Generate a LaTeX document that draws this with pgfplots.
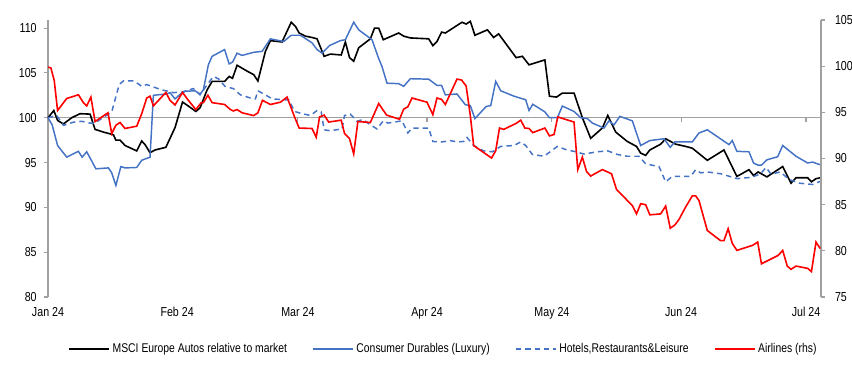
\documentclass[border=0pt]{standalone}
\usepackage{fontspec}
\setmainfont{Liberation Sans}[FakeStretch=0.82]
\usepackage{pgfplots}
\usepackage{pgfplotstable}
\pgfplotsset{compat=1.18}
\definecolor{cblue}{RGB}{68,114,196}
\definecolor{cred}{RGB}{255,0,0}
\definecolor{cgrey}{RGB}{160,160,160}

\pgfplotstableread{
d v
0 100
1.4 100.8
2.3 99.7
3.7 99.3
5.7 100.0
7.7 100.45
10.1 100.4
11.3 98.7
13.3 98.4
14.9 98.2
15.7 98.1
16.3 97.5
17.3 97.5
18.5 96.9
21.3 96.3
22.5 97.4
23.3 97.0
24.5 96.1
25.7 96.4
28.3 96.7
29.7 98.1
30.5 98.9
32.3 101.75
33.7 101.3
35.5 100.7
36.5 101.1
38.2 103.1
39.4 104.05
42.4 104.05
43.5 104.6
44.3 104.4
45.4 105.85
47.8 105.2
49.4 104.8
50.4 104.1
52.2 107.4
53.4 108.6
56.2 108.45
57.0 109.25
58.4 110.65
59.4 110.2
60.3 109.45
61.8 109.1
63.4 108.95
64.6 108.8
66.3 106.85
67.8 107.1
70.4 107.0
71.4 108.45
72.4 106.7
73.4 106.3
74.6 107.8
77.4 108.8
78.4 110.0
79.4 110.0
80.5 108.7
84.2 109.45
85.4 109.1
87.0 108.9
91.4 108.8
92.4 108.05
93.4 108.5
94.5 109.55
95.4 109.45
99.4 110.65
100.4 110.45
101.4 110.75
102.5 109.2
105.5 109.8
107.0 108.95
108.2 109.35
112.4 106.7
113.9 106.85
115.5 105.9
119.3 106.45
120.4 102.4
122.1 102.3
123.5 102.75
126.3 102.75
128.3 100.0
130.3 97.7
133.1 98.85
134.4 100.25
136.3 98.4
139.1 97.35
141.3 96.8
142.3 96.05
143.5 95.8
144.5 96.4
147.1 97.05
148.3 97.65
150.7 97.05
153.1 96.8
154.7 96.6
158.3 95.25
162.3 96.4
165.4 93.45
168.3 94.2
169.4 93.55
170.5 93.95
172.6 93.4
176.4 94.55
178.4 92.7
179.6 93.3
182.4 93.3
183.3 92.85
184.4 93.2
185.4 93.3
}\autos

\pgfplotstableread{
d v
0 100
1.0 99.2
2.3 96.9
4.5 95.6
7.3 96.25
8.2 95.6
9.3 96.2
11.5 94.3
14.5 94.4
15.3 93.85
16.3 92.45
17.5 94.55
18.5 94.4
21.3 94.45
22.5 95.25
24.5 95.6
25.3 102.5
28.5 102.65
29.3 102.8
30.5 102.1
31.7 102.6
32.9 102.95
35.3 103.0
36.5 102.65
37.3 103.1
38.5 105.9
39.4 106.85
42.4 107.6
43.5 106.0
44.3 106.2
45.4 107.2
46.6 106.95
49.4 107.3
51.4 107.4
53.4 108.8
56.6 108.5
58.4 109.2
60.6 109.2
63.4 108.35
64.6 107.6
65.8 107.2
67.6 108.05
70.2 108.6
71.4 108.7
73.4 110.65
74.6 109.8
77.8 108.7
79.4 106.6
80.2 105.7
81.4 103.85
84.2 103.8
85.4 103.5
87.0 104.35
91.4 104.3
93.4 103.6
94.5 103.6
95.4 102.55
98.2 102.65
100.2 101.45
101.4 101.35
102.5 99.9
105.2 101.25
106.3 101.35
107.5 104.05
108.7 103.0
111.9 102.4
114.7 102.0
115.5 100.8
116.4 101.5
119.3 100.65
120.4 100.0
122.3 100.0
123.5 101.3
126.3 100.7
127.9 100.0
129.5 99.9
130.7 99.4
133.5 98.85
134.7 99.65
135.9 99.2
137.3 100.15
140.3 99.65
142.3 96.9
144.5 97.45
147.9 97.65
149.4 96.7
150.5 97.3
154.7 97.3
156.3 98.3
158.3 98.65
163.5 97.0
164.3 97.45
165.4 96.25
168.3 96.2
169.4 94.95
170.5 94.7
171.3 94.7
172.6 95.3
175.2 95.65
176.4 96.9
179.6 95.7
182.4 94.95
183.6 95.05
185.4 94.75
}\durables

\pgfplotstableread{
d v
0 100
2.1 100.25
3.7 99.15
6.1 99.5
8.1 99.6
10.1 99.4
11.3 99.4
12.5 99.8
15.3 100.65
17.1 103.7
18.1 104.1
20.7 104.1
22.5 103.5
23.7 103.7
26.1 103.3
27.3 103.1
28.9 102.95
30.1 102.8
32.1 102.85
34.9 103.25
36.5 102.55
38.1 103.6
39.7 104.6
40.9 104.35
42.5 103.5
44.5 103.25
46.2 102.55
48.6 102.2
49.8 102.1
50.4 103.0
52.2 102.55
53.8 102.1
57.0 102.0
57.8 102.0
59.2 100.7
60.6 100.5
63.0 100.25
64.6 100.8
65.6 100.65
66.3 98.65
67.8 98.55
70.6 98.75
71.2 100.25
72.6 100.4
74.2 99.6
75.6 99.8
77.4 99.2
79.0 98.75
80.5 99.65
81.6 99.4
85.0 99.65
86.4 98.3
87.4 98.85
91.4 98.85
92.4 97.35
94.6 97.3
96.6 97.45
98.2 97.3
99.8 97.35
100.6 97.8
102.2 96.9
104.6 96.3
106.7 96.2
108.7 96.8
111.9 96.9
113.5 97.3
114.7 96.9
116.3 95.9
119.1 95.7
120.7 96.25
122.3 96.8
124.3 96.45
126.7 96.2
128.7 95.95
131.9 96.2
134.4 96.3
136.7 95.9
139.1 95.7
141.9 95.7
143.5 94.85
146.7 94.55
148.3 92.85
149.9 93.45
154.3 93.45
155.5 94.2
156.7 93.85
158.3 93.95
161.5 93.75
165.5 93.2
168.8 93.35
171.0 93.7
172.4 94.45
173.6 93.7
175.8 93.95
178.0 93.1
180.4 92.7
183.6 92.55
185.4 92.9
}\hotels

\pgfplotstableread{
d v
0 99.9
0.7 99.8
1.5 98.45
2.3 95.2
4.5 96.5
7.3 96.9
8.5 96.05
9.3 95.7
10.3 96.65
11.3 94.0
14.4 94.95
15.3 92.7
16.3 93.6
17.3 93.9
18.5 93.25
21.3 93.5
22.5 94.85
23.7 96.55
24.5 96.75
25.3 95.7
28.3 97.15
29.3 96.3
30.5 95.8
32.3 97.15
33.7 96.3
35.5 95.3
36.8 96.05
37.3 96.05
38.4 96.85
39.4 96.05
42.4 95.85
43.8 95.3
44.5 95.15
45.4 95.3
46.6 94.95
49.4 94.65
50.4 94.95
51.5 96.3
53.4 95.85
55.8 96.1
57.4 96.65
59.2 94.5
60.3 93.3
63.4 93.25
64.4 92.3
65.2 94.5
66.3 94.7
67.4 93.95
70.4 94.15
71.2 92.7
72.4 92.15
73.4 90.5
74.4 94.0
77.4 93.9
79.4 95.95
81.3 94.7
84.4 94.25
85.4 95.35
86.4 95.6
87.4 96.55
91.0 96.1
92.4 94.75
93.4 96.55
94.5 96.4
95.4 95.85
98.2 98.6
99.3 98.5
100.4 97.85
101.4 94.65
102.2 91.4
106.5 90.05
107.5 90.85
108.4 93.3
109.4 93.15
112.4 93.8
113.5 94.15
114.5 93.3
115.5 93.25
116.4 92.8
119.3 93.3
120.4 92.45
121.5 92.6
122.4 94.5
126.3 93.95
127.2 88.8
128.3 90.15
129.3 88.6
130.3 88.1
133.1 88.8
135.3 88.35
136.5 86.65
140.3 84.9
141.3 84.0
142.3 85.1
143.5 85.0
144.5 83.9
147.1 84.0
148.3 84.85
149.4 82.45
150.5 82.8
151.5 83.4
153.1 84.75
154.7 85.95
155.5 85.95
156.3 85.45
158.3 82.2
161.5 81.1
162.3 81.1
163.3 82.4
164.3 80.8
165.4 80.05
169.2 80.6
170.4 80.95
171.3 78.6
175.3 79.5
176.4 80.05
177.5 78.35
178.4 78.0
179.6 78.35
182.4 78.1
183.3 77.75
184.4 80.95
185.4 80.25
}\airlines

\begin{document}
\begin{tikzpicture}
\useasboundingbox (-36pt,-54pt) rectangle (603pt,222.75pt);
\pgfplotsset{
  common/.style={
    at={(0,0)}, anchor=south west,
    scale only axis, width=579.75pt, height=207.75pt,
    xmin=0, xmax=185.6,
    /pgf/number format/assume math mode=true,
    ticklabel style={font=\fontsize{9.75}{11}\selectfont, text=black},
    tick align=outside, major tick length=3pt,
    y tick style={cgrey, line width=0.8pt},
    y axis line style={cgrey, line width=0.8pt},
    clip=false,
  }
}
\begin{axis}[common,
  ymin=80, ymax=110.9,
  axis y line*=left, axis x line*=bottom,
  x axis line style={draw=none},
  x tick style={draw=none},
  xtick={0,31,60,91,121,152,182},
  xticklabels={Jan 24,Feb 24,Mar 24,Apr 24,May 24,Jun 24,Jul 24},
  xticklabel style={yshift=-1pt},
  ytick={80,85,...,110},
  yticklabel style={xshift=-2pt},
  legend style={at={(rel axis cs:0.512,0)}, anchor=center, yshift=-39pt,
    draw=none, fill=none, font=\fontsize{9.5}{11}\selectfont,
    /tikz/every even column/.append style={column sep=17pt},
    inner sep=0pt},
  legend columns=4,
  legend image code/.code={\draw[#1] (0pt,0pt) -- (30pt,0pt);},
]
\draw[cgrey, line width=0.8pt] (axis cs:0,100) -- (axis cs:185.6,100);
\pgfplotsinvokeforeach{31,60,91,121,152,182}{
  \draw[cgrey, line width=0.8pt] (axis cs:#1,100) -- ([yshift=-3pt]axis cs:#1,100);
}
\addplot[black, line width=1.2pt] table[x=d,y=v] {\autos};
\addlegendentry{MSCI Europe Autos relative to market}
\addplot[cblue, line width=1.1pt] table[x=d,y=v] {\durables};
\addlegendentry{Consumer Durables (Luxury)}
\addplot[cblue, line width=1.1pt, dash pattern=on 4pt off 3pt] table[x=d,y=v] {\hotels};
\addlegendentry{Hotels,Restaurants\&Leisure}
\addlegendimage{cred, line width=1.2pt}
\addlegendentry{Airlines (rhs)}
\end{axis}
\begin{axis}[common,
  ymin=75, ymax=105,
  axis y line*=right, axis x line=none,
  ytick={75,80,...,105},
  yticklabel style={xshift=4pt},
]
\addplot[cred, line width=1.2pt] table[x=d,y=v] {\airlines};
\end{axis}
\end{tikzpicture}
\end{document}
